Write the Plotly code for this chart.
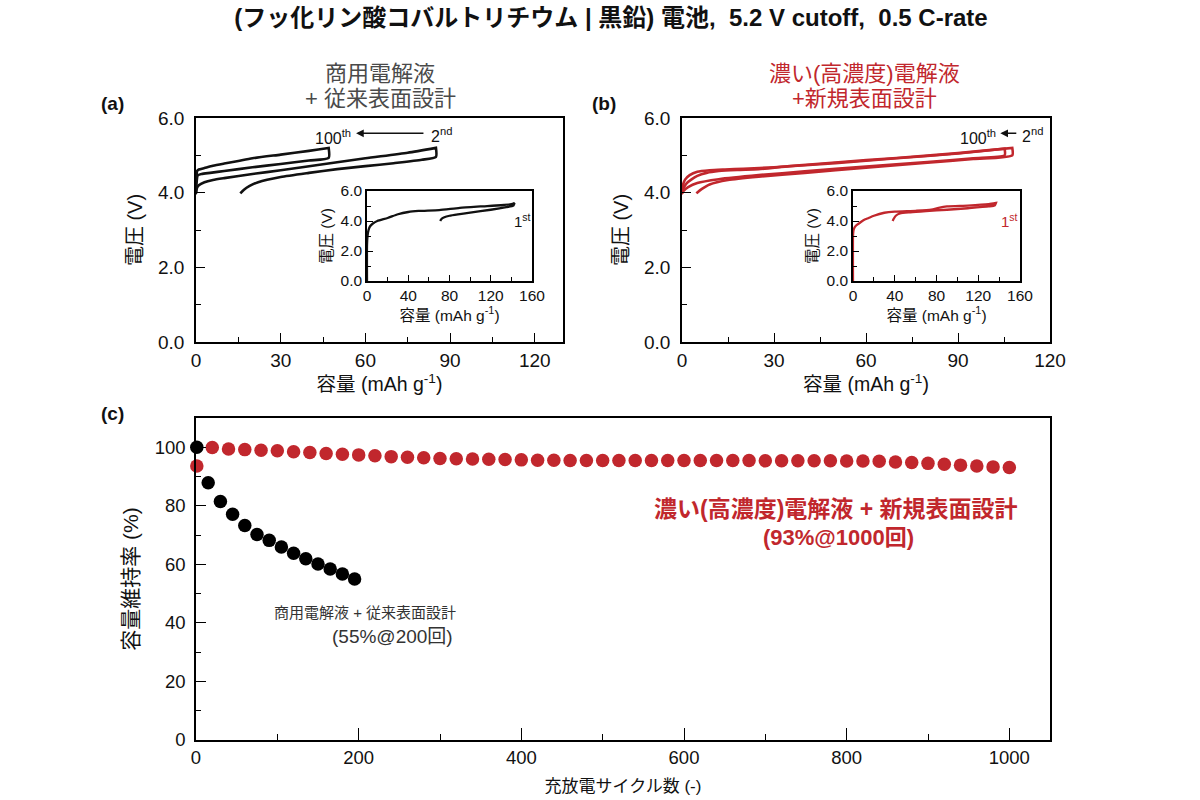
import plotly.graph_objects as go

# ---------------- data ----------------
# Panel (a): commercial electrolyte, main plot (2nd and 100th cycles)
a2_chg_cap = [0, 0.3, 1, 3, 6, 10, 20, 30, 45, 60, 75, 85]
a2_chg_v = [3.98, 4.12, 4.2, 4.28, 4.34, 4.39, 4.5, 4.6, 4.76, 4.92, 5.07, 5.2]
a2_dis_cap = [85, 85, 80, 70, 60, 50, 40, 30, 22, 19, 17, 15.7]
a2_dis_v = [5.2, 4.96, 4.88, 4.79, 4.71, 4.63, 4.53, 4.42, 4.28, 4.18, 4.08, 3.98]
a100_chg_cap = [0, 0.15, 0.4, 1, 3, 6, 10, 15, 20, 30, 40, 47]
a100_chg_v = [3.98, 4.4, 4.58, 4.62, 4.66, 4.72, 4.78, 4.85, 4.92, 5.02, 5.12, 5.2]
a100_dis_cap = [47, 47, 40, 30, 20, 10, 5, 2, 0.6, 0.2, 0]
a100_dis_v = [5.2, 4.93, 4.86, 4.77, 4.68, 4.58, 4.53, 4.5, 4.46, 4.25, 3.98]
# Panel (a) inset: 1st cycle
a1_chg_cap = [0, 0, 0.5, 1.5, 3, 6, 10, 20, 30, 40, 50, 70, 90, 110, 130, 140, 143]
a1_chg_v = [0, 2.4, 3.0, 3.4, 3.65, 3.85, 4.0, 4.2, 4.45, 4.6, 4.67, 4.73, 4.88, 4.97, 5.05, 5.12, 5.2]
a1_dis_cap = [143, 142, 135, 120, 100, 90, 80, 75, 72, 71]
a1_dis_v = [5.2, 5.02, 4.92, 4.75, 4.56, 4.46, 4.35, 4.25, 4.12, 4.0]

# Panel (b): concentrated electrolyte, main plot
b2_chg_cap = [0, 0.5, 1.5, 3, 5, 8, 12, 18, 25, 35, 50, 70, 90, 107.7]
b2_chg_v = [3.98, 4.12, 4.25, 4.35, 4.45, 4.53, 4.58, 4.61, 4.63, 4.71, 4.81, 4.93, 5.06, 5.2]
b2_dis_cap = [107.7, 107.7, 95, 80, 60, 40, 25, 15, 9, 6.5, 5.2, 4.7]
b2_dis_v = [5.2, 5.0, 4.9, 4.8, 4.67, 4.53, 4.43, 4.34, 4.22, 4.1, 4.02, 3.98]
b100_chg_cap = [0, 0.3, 1, 2.5, 5, 9, 14, 20, 30, 50, 70, 90, 105.2]
b100_chg_v = [3.98, 4.2, 4.35, 4.47, 4.56, 4.6, 4.62, 4.64, 4.68, 4.79, 4.92, 5.05, 5.18]
b100_dis_cap = [105.2, 105.2, 95, 80, 60, 40, 25, 12, 5, 2, 0.5, 0]
b100_dis_v = [5.18, 5.0, 4.92, 4.82, 4.7, 4.57, 4.47, 4.36, 4.26, 4.15, 4.05, 3.98]
# Panel (b) inset: 1st cycle
b1_chg_cap = [0, 0, 0.3, 1, 3, 6, 10, 15, 20, 30, 40, 60, 75, 82, 90, 110, 130, 137]
b1_chg_v = [0, 3.0, 3.3, 3.5, 3.7, 3.85, 4.05, 4.2, 4.35, 4.55, 4.63, 4.68, 4.75, 4.88, 4.98, 5.03, 5.12, 5.2]
b1_dis_cap = [137, 136, 130, 110, 90, 70, 55, 45, 41, 39, 38]
b1_dis_v = [5.2, 5.05, 4.97, 4.85, 4.75, 4.66, 4.58, 4.5, 4.35, 4.15, 4.0]

# Panel (c): capacity retention
black_cycles = [1, 15, 30, 45, 60, 75, 90, 105, 120, 135, 150, 165, 180, 195]
black_retention = [100, 87.9, 81.5, 77.1, 73.3, 70.2, 68.2, 65.9, 63.8, 61.9, 60.1, 58.4, 56.7, 55.0]
red_cycles = [1, 20, 40, 60, 80, 100, 120, 140, 160, 180, 200, 220, 240, 260, 280, 300,
              320, 340, 360, 380, 400, 420, 440, 460, 480, 500, 520, 540, 560, 580, 600,
              620, 640, 660, 680, 700, 720, 740, 760, 780, 800, 820, 840, 860, 880, 900,
              920, 940, 960, 980, 1000]
red_retention = [93.6, 99.9, 99.4, 99.2, 99.0, 98.8, 98.5, 98.2, 97.9, 97.6, 97.4, 97.1,
                 96.8, 96.6, 96.4, 96.2, 96.1, 96.0, 95.9, 95.8, 95.7, 95.6, 95.6, 95.5,
                 95.5, 95.5, 95.5, 95.5, 95.5, 95.5, 95.5, 95.5, 95.5, 95.5, 95.5, 95.4,
                 95.4, 95.4, 95.4, 95.4, 95.3, 95.3, 95.2, 95.0, 94.8, 94.5, 94.2, 93.9,
                 93.6, 93.3, 93.1]

# ---------------- styling ----------------
BLACK = "#111111"
RED = "#C1272D"
GRAY = "#4a4a4a"
FONT = "Liberation Sans, Arial, Noto Sans CJK JP, sans-serif"
W, H = 1200, 800


def px(x):
    return x / W


def py(y):
    return 1 - y / H


fig = go.Figure()


def add_loop(cc, cv, dc, dv, color, xa, ya, width):
    fig.add_trace(go.Scatter(x=cc + dc, y=cv + dv, mode="lines",
                             line=dict(color=color, width=width, shape="spline", smoothing=0.6),
                             xaxis=xa, yaxis=ya, hoverinfo="skip"))


add_loop(a2_chg_cap, a2_chg_v, a2_dis_cap, a2_dis_v, BLACK, "x", "y", 2.6)
add_loop(a100_chg_cap, a100_chg_v, a100_dis_cap, a100_dis_v, BLACK, "x", "y", 2.6)
add_loop(b2_chg_cap, b2_chg_v, b2_dis_cap, b2_dis_v, RED, "x2", "y2", 2.6)
add_loop(b100_chg_cap, b100_chg_v, b100_dis_cap, b100_dis_v, RED, "x2", "y2", 2.6)
add_loop(a1_chg_cap, a1_chg_v, a1_dis_cap, a1_dis_v, BLACK, "x4", "y4", 2.3)
add_loop(b1_chg_cap, b1_chg_v, b1_dis_cap, b1_dis_v, RED, "x5", "y5", 2.3)

fig.add_trace(go.Scatter(x=red_cycles, y=red_retention, mode="markers",
                         marker=dict(color=RED, size=13.5, line=dict(width=0)),
                         cliponaxis=False, xaxis="x3", yaxis="y3"))
fig.add_trace(go.Scatter(x=black_cycles, y=black_retention, mode="markers",
                         marker=dict(color="black", size=13.5, line=dict(width=0)),
                         cliponaxis=False, xaxis="x3", yaxis="y3"))


def axis(domain, rng, dtick, minor, anchor, fmt=None, size=18, title=None, tsize=19,
         standoff=5, ticklen=9, mlen=5, lstand=0):
    d = dict(domain=domain, range=rng, dtick=dtick, tick0=0, anchor=anchor, automargin=False,
             ticks="inside", ticklen=ticklen, tickwidth=1.2, tickcolor="black",
             minor=dict(ticks="inside", dtick=minor, ticklen=mlen, tickwidth=1.2, tickcolor="black"),
             showline=True, linecolor="black", linewidth=1.5, mirror=True,
             showgrid=False, zeroline=False, ticklabelstandoff=lstand,
             tickfont=dict(family=FONT, size=size, color="#111"))
    if fmt:
        d["tickformat"] = fmt
    if title:
        d["title"] = dict(text=title, font=dict(family=FONT, size=tsize, color="#111"),
                          standoff=standoff)
    return d


cap_title = "容量 (mAh g<sup>-1</sup>)"
v_title = "電圧 (V)"

fig.update_layout(
    width=W, height=H,
    margin=dict(l=0, r=0, t=0, b=0, autoexpand=False),
    paper_bgcolor="white", plot_bgcolor="white",
    showlegend=False,
    title=dict(text="<b>(フッ化リン酸コバルトリチウム | 黒鉛) 電池,  5.2 V cutoff,  0.5 C-rate</b>",
               x=px(611), xanchor="center", y=py(18), yanchor="middle",
               font=dict(family=FONT, size=24, color="#111")),
    xaxis=axis([px(196), px(563)], [0, 130], 30, 15, "y", size=19, title=cap_title, tsize=19.5, standoff=6),
    yaxis=axis([py(342), py(118)], [0, 6], 2, 1, "x", fmt=".1f", size=19, title=v_title, tsize=20,
               standoff=10, lstand=6),
    xaxis2=axis([px(682), px(1050)], [0, 120], 30, 15, "y2", size=19, title=cap_title, tsize=19.5, standoff=6),
    yaxis2=axis([py(342), py(118)], [0, 6], 2, 1, "x2", fmt=".1f", size=19, title=v_title, tsize=20,
                standoff=10, lstand=6),
    xaxis3=axis([px(196), px(1050)], [0, 1050], 200, 100, "y3", size=18.5,
                title="充放電サイクル数 (-)", tsize=17, standoff=13, ticklen=12, mlen=6),
    yaxis3=axis([py(740), py(418)], [0, 110], 20, 10, "x3", size=18.5,
                title="容量維持率 (%)", tsize=21, standoff=10, ticklen=10, mlen=5, lstand=5),
    xaxis4=axis([px(367), px(532)], [0, 160], 40, 20, "y4", size=15.5, title=cap_title,
                tsize=15.5, standoff=3, ticklen=6, mlen=4),
    yaxis4=axis([py(281), py(191)], [0, 6], 2, 1, "x4", fmt=".1f", size=15.5, title=v_title,
                tsize=15.5, standoff=4, ticklen=6, mlen=4),
    xaxis5=axis([px(853), px(1020)], [0, 160], 40, 20, "y5", size=15.5, title=cap_title,
                tsize=15.5, standoff=3, ticklen=6, mlen=4),
    yaxis5=axis([py(281), py(191)], [0, 6], 2, 1, "x5", fmt=".1f", size=15.5, title=v_title,
                tsize=15.5, standoff=4, ticklen=6, mlen=4),
)

ann = []


def text(x, y, t, size, color="#111", xanchor="center", bold=False):
    ann.append(dict(x=px(x), y=py(y), xref="paper", yref="paper", text=f"<b>{t}</b>" if bold else t,
                    showarrow=False, xanchor=xanchor, yanchor="middle",
                    font=dict(family=FONT, size=size, color=color)))


# Panel labels
text(112, 103, "(a)", 19, bold=True)
text(604, 103, "(b)", 19, bold=True)
text(112, 413, "(c)", 19, bold=True)
# Panel headings
text(380, 73, "商用電解液", 22, GRAY)
text(380, 98, "+ 従来表面設計", 22, GRAY)
text(864, 73, "濃い(高濃度)電解液", 22, RED)
text(864, 98, "+新規表面設計", 22, RED)
# Cycle labels in main plots
text(353, 137, "100<sup>th</sup>", 16, xanchor="right")
text(429, 135, "2<sup>nd</sup>", 16, xanchor="left")
text(998, 137, "100<sup>th</sup>", 16, xanchor="right")
text(1020, 135, "2<sup>nd</sup>", 16, xanchor="left")
# 1st cycle labels in insets
text(512, 220, "1<sup>st</sup>", 15, xanchor="left")
text(999, 220, "1<sup>st</sup>", 15, RED, xanchor="left")
# Panel (c) annotations
text(836, 509, "濃い(高濃度)電解液 + 新規表面設計", 23, RED, bold=True)
text(838, 537, "(93%@1000回)", 22, RED, bold=True)
text(365, 612, "商用電解液 + 従来表面設計", 15, "#333")
text(392, 636, "(55%@200回)", 19, "#333")

# Arrows (100th <- 2nd)
for xa, ya, head, tail in [("x", "y", 56.7, 81.1), ("x2", "y2", 103.8, 109.5)]:
    ann.append(dict(x=head, y=5.59, ax=tail, ay=5.59, xref=xa, yref=ya, axref=xa, ayref=ya,
                    text="", showarrow=True, arrowhead=2, arrowsize=1.1, arrowwidth=1.4,
                    arrowcolor="#111"))

fig.update_layout(annotations=ann)

page_js = "document.body.style.margin='0';document.body.style.overflow='hidden';"

fig.write_html("out.html", config={"displayModeBar": False}, post_script=page_js)
